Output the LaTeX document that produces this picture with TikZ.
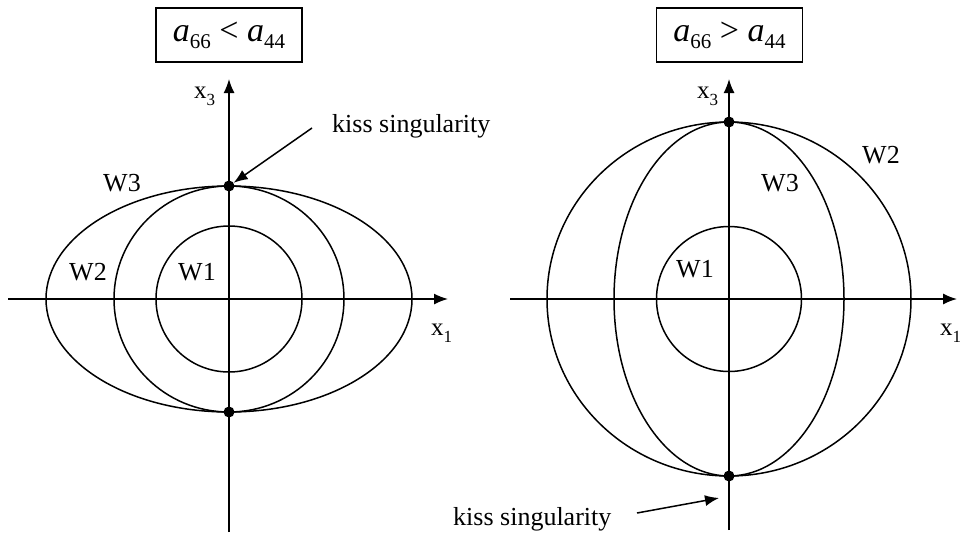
\documentclass[tikz,border=0pt]{standalone}
\usepackage{fontspec}
\setmainfont{Liberation Serif}
\usetikzlibrary{arrows.meta,calc}
\newcommand{\acoef}[1]{\textit{a}\raisebox{-7pt}{\fontsize{21}{21}\selectfont #1}}
\newcommand{\axlbl}[1]{x\raisebox{-7pt}{\fontsize{17}{17}\selectfont #1}}

\begin{document}
\begin{tikzpicture}[x=1pt,y=-1pt,
        axis/.style={-{Latex[length=14pt,width=11pt]},line width=1.5pt},
        front/.style={line width=1.5pt},
        pointer/.style={-{Latex[length=14pt,width=11pt]},line width=1.5pt},
        kissdot/.style={circle,fill,inner sep=0pt,minimum size=11pt},
        condbox/.style={draw,line width=1.5pt,minimum width=146pt,minimum height=54pt,
                        inner sep=0pt,font=\fontsize{34}{38}\selectfont},
        wlabel/.style={inner sep=0pt,font=\fontsize{26}{30}\selectfont},
        axlabel/.style={inner sep=0pt,anchor=base west,font=\fontsize{25}{28}\selectfont}
    ]
        \useasboundingbox (0,0) rectangle (960,536);

        % Left: a66 < a44
        \coordinate (L) at (229,299);
        \coordinate (L1a) at (8,299);
        \coordinate (L1b) at (448,299);
        \coordinate (L3a) at (229,532);
        \coordinate (L3b) at (229,79);
        \draw[axis] (L1a) -- (L1b);
        \draw[axis] (L3a) -- (L3b);
        \draw[front] (L) circle[radius=73pt];
        \draw[front] (L) ellipse[x radius=115pt,y radius=113pt];
        \draw[front] (L) ellipse[x radius=183pt,y radius=113pt];

        \node[condbox] (condL) at (229,35) {\acoef{66} < \acoef{44}};
        \node[kissdot] (topL) at (229,186) {};
        \node[kissdot] (botL) at (229,412) {};
        \node[wlabel] (w1L) at (197,272) {W1};
        \node[wlabel] (w2L) at (88,272) {W2};
        \node[wlabel] (w3L) at (122,183) {W3};
        \node[axlabel] (x3L) at (194,98) {\axlbl{3}};
        \node[axlabel] (x1L) at (431,335) {\axlbl{1}};
        \node[wlabel,anchor=base west] (kissL) at (332,132) {kiss singularity};
        \coordinate (kissLtail) at (312,128);
        \draw[pointer] (kissLtail) -- (topL);

        % Right: a66 > a44
        \coordinate (R) at (729,299);
        \coordinate (R1a) at (510,299);
        \coordinate (R1b) at (957,299);
        \coordinate (R3a) at (729,530);
        \coordinate (R3b) at (729,79);
        \draw[axis] (R1a) -- (R1b);
        \draw[axis] (R3a) -- (R3b);
        \draw[front] (R) circle[radius=72.5pt];
        \draw[front] (R) ellipse[x radius=115pt,y radius=177pt];
        \draw[front] (R) ellipse[x radius=182pt,y radius=177pt];

        \node[condbox] (condR) at (729.5,35) {\acoef{66} > \acoef{44}};
        \node[kissdot] (topR) at (729,122) {};
        \node[kissdot] (botR) at (729,476) {};
        \node[wlabel] (w1R) at (695,269) {W1};
        \node[wlabel] (w2R) at (881,155) {W2};
        \node[wlabel] (w3R) at (780,183) {W3};
        \node[axlabel] (x3R) at (697,98) {\axlbl{3}};
        \node[axlabel] (x1R) at (940,335) {\axlbl{1}};
        \node[wlabel,anchor=base west] (kissR) at (453,525) {kiss singularity};
        \coordinate (kissRtail) at (637,513);
        \coordinate (kissRtip) at (719,498);
        \draw[pointer] (kissRtail) -- (kissRtip);
    \end{tikzpicture}
\end{document}
